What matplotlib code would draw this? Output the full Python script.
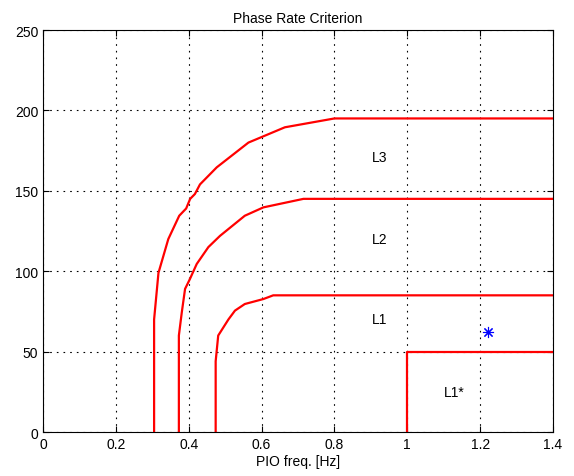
import matplotlib
matplotlib.use("Agg")
import matplotlib.pyplot as plt

# boundary curves (PIO freq [Hz], phase rate)
l3_x = [0.305, 0.305, 0.317, 0.344, 0.374, 0.393, 0.404, 0.417, 0.431, 0.477, 0.564, 0.664, 0.80, 1.4]
l3_y = [0, 70, 99, 120, 134.5, 139, 145, 148, 154, 164.6, 180, 189.5, 195, 195]

l2_x = [0.373, 0.373, 0.381, 0.390, 0.403, 0.422, 0.454, 0.486, 0.554, 0.605, 0.715, 1.4]
l2_y = [0, 60, 74.4, 89, 95, 104.5, 115, 122, 134.5, 139.7, 145, 145]

l1_x = [0.474, 0.474, 0.481, 0.509, 0.527, 0.554, 0.605, 0.632, 1.4]
l1_y = [0, 44, 60, 70, 75.5, 79.6, 82.7, 85, 85]

l1s_x = [1.0, 1.0, 1.4]
l1s_y = [0, 50, 50]

point_x = [1.222]
point_y = [62.4]

labels = ["L3", "L2", "L1", "L1*"]
label_x = [0.925, 0.925, 0.925, 1.13]
label_y = [171, 120, 70, 25]

plt.rcParams["font.family"] = ["Liberation Sans", "DejaVu Sans"]
plt.rcParams["font.size"] = 10

fig = plt.figure(figsize=(5.74, 4.77), dpi=100)
ax = fig.add_axes([0.0749, 0.0922, 0.8885, 0.8428])

for xs, ys in [(l3_x, l3_y), (l2_x, l2_y), (l1_x, l1_y), (l1s_x, l1s_y)]:
    ax.plot(xs, ys, color="red", linewidth=1.6)

# matlab-style '*' marker (8-arm asterisk)
ax.plot(point_x, point_y, marker=(8, 2, 0), color="blue", linestyle="none",
        markersize=8, markeredgewidth=0.8)

for lab, lx, ly in zip(labels, label_x, label_y):
    ax.text(lx, ly, lab, ha="center", va="center", fontsize=10)

ax.set_xlim(0, 1.4)
ax.set_ylim(0, 250)
ax.set_xticks([0, 0.2, 0.4, 0.6, 0.8, 1.0, 1.2, 1.4])
ax.set_xticklabels(["0", "0.2", "0.4", "0.6", "0.8", "1", "1.2", "1.4"])
ax.set_yticks([0, 50, 100, 150, 200, 250])
ax.grid(True, color="black", linestyle=(0, (1.5, 4.5)), linewidth=0.8)
ax.tick_params(direction="in", top=True, right=True, length=4)
ax.set_xlabel("PIO freq. [Hz]", labelpad=2)
ax.set_title("Phase Rate Criterion", fontsize=10, pad=6)

fig.savefig("out.png", dpi=100)
